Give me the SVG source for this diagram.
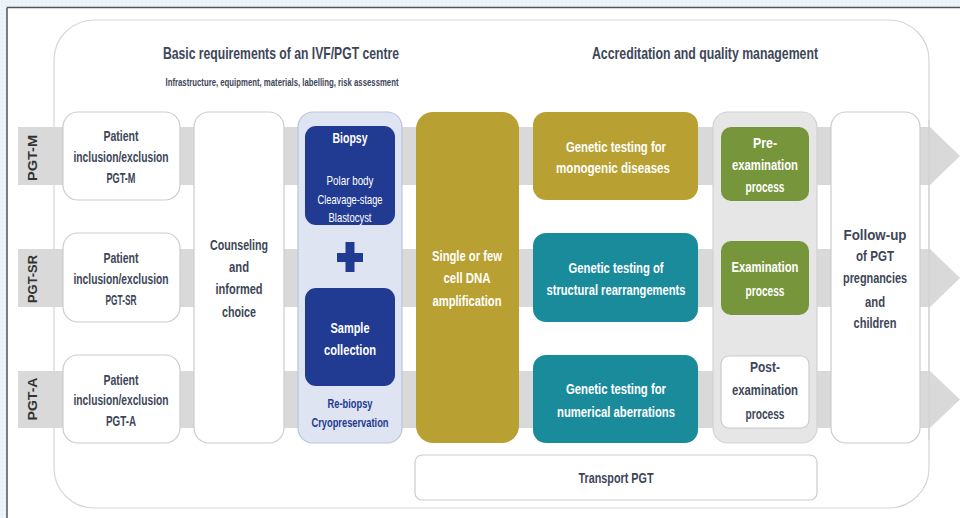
<svg xmlns="http://www.w3.org/2000/svg" width="960" height="518" viewBox="0 0 960 518">
<style>
text{font-family:"Liberation Sans",Arial,sans-serif;font-weight:bold;text-anchor:middle}
.dk{fill:#3d4658;font-size:15px}
.wt{fill:#ffffff;font-size:15px}
.ws{fill:#ffffff;font-size:13px;font-weight:normal}
.bl{fill:#23398f;font-size:13px}
.lane{fill:#d9d9d9}
.wbox{fill:#ffffff;stroke:#cccccc;stroke-width:1.2}
.lab{fill:#333333;font-size:12px}
</style>
<defs>
<pattern id="dots" width="4" height="4" patternUnits="userSpaceOnUse">
<rect width="4" height="4" fill="#eef4f9"/>
<circle cx="2" cy="2" r="0.8" fill="#dbe7f1"/>
</pattern>
</defs>
<rect x="0" y="0" width="960" height="518" fill="url(#dots)"/>
<rect x="7" y="8" width="953" height="510" fill="#ffffff"/>
<line x1="7" y1="7.5" x2="960" y2="7.5" stroke="#555555" stroke-width="1.5"/>
<line x1="7" y1="7.5" x2="7" y2="518" stroke="#555555" stroke-width="1.5"/>

<g id="frame">
<rect x="54" y="20" width="875" height="488" rx="40" fill="#ffffff" stroke="#d6d6d6" stroke-width="1.2"/>
<text x="281" y="59" style="fill:#3d4658;font-size:17px" textLength="236" lengthAdjust="spacingAndGlyphs">Basic requirements of an IVF/PGT centre</text>
<text x="282" y="86" style="fill:#3d4658;font-size:10px" textLength="233" lengthAdjust="spacingAndGlyphs">Infrastructure, equipment, materials, labelling, risk assessment</text>
<text x="705" y="59" style="fill:#3d4658;font-size:17px" textLength="226" lengthAdjust="spacingAndGlyphs">Accreditation and quality management</text>
</g>

<g id="connectors">
<path class="lane" d="M18 127 H930 L960 156 L930 185 H18 Z"/>
<path class="lane" d="M18 249 H930 L960 278 L930 307 H18 Z"/>
<path class="lane" d="M18 371 H930 L960 399.5 L930 428 H18 Z"/>
<line x1="929" y1="120" x2="929" y2="440" stroke="#d0d0d0" stroke-width="1"/>
<text class="lab" transform="translate(37 158) rotate(-90)" textLength="46" lengthAdjust="spacingAndGlyphs">PGT-M</text>
<text class="lab" transform="translate(37 279) rotate(-90)" textLength="48" lengthAdjust="spacingAndGlyphs">PGT-SR</text>
<text class="lab" transform="translate(37 399) rotate(-90)" textLength="43" lengthAdjust="spacingAndGlyphs">PGT-A</text>
</g>

<g id="patient-m">
<rect class="wbox" x="63" y="112" width="117" height="88" rx="15"/>
<text class="dk" x="121" y="141" textLength="35" lengthAdjust="spacingAndGlyphs">Patient</text>
<text class="dk" x="121" y="162" textLength="95" lengthAdjust="spacingAndGlyphs">inclusion/exclusion</text>
<text class="dk" x="121" y="183" textLength="29" lengthAdjust="spacingAndGlyphs">PGT-M</text>
</g>
<g id="patient-sr">
<rect class="wbox" x="63" y="233" width="117" height="89" rx="15"/>
<text class="dk" x="121" y="263" textLength="35" lengthAdjust="spacingAndGlyphs">Patient</text>
<text class="dk" x="121" y="284" textLength="95" lengthAdjust="spacingAndGlyphs">inclusion/exclusion</text>
<text class="dk" x="121" y="305" textLength="31" lengthAdjust="spacingAndGlyphs">PGT-SR</text>
</g>
<g id="patient-a">
<rect class="wbox" x="63" y="355" width="117" height="88" rx="15"/>
<text class="dk" x="121" y="385" textLength="35" lengthAdjust="spacingAndGlyphs">Patient</text>
<text class="dk" x="121" y="405" textLength="95" lengthAdjust="spacingAndGlyphs">inclusion/exclusion</text>
<text class="dk" x="121" y="426" textLength="30" lengthAdjust="spacingAndGlyphs">PGT-A</text>
</g>

<g id="counseling">
<rect class="wbox" x="194" y="112" width="90" height="331" rx="15"/>
<text class="dk" x="239" y="250" textLength="58" lengthAdjust="spacingAndGlyphs">Counseling</text>
<text class="dk" x="239" y="272" textLength="20" lengthAdjust="spacingAndGlyphs">and</text>
<text class="dk" x="239" y="294" textLength="47" lengthAdjust="spacingAndGlyphs">informed</text>
<text class="dk" x="239" y="317" textLength="34" lengthAdjust="spacingAndGlyphs">choice</text>
</g>

<g id="biopsy-group">
<rect x="298" y="112" width="104" height="331" rx="15" fill="#dfe4f2" stroke="#bcc4dc" stroke-width="1.2"/>
<text class="bl" x="350" y="408" textLength="45" lengthAdjust="spacingAndGlyphs">Re-biopsy</text>
<text class="bl" x="350" y="427" textLength="77" lengthAdjust="spacingAndGlyphs">Cryopreservation</text>
</g>
<g id="biopsy">
<rect x="305" y="126" width="90" height="99" rx="11" fill="#213b92"/>
<text class="wt" x="350" y="143" textLength="35" lengthAdjust="spacingAndGlyphs">Biopsy</text>
<text class="ws" x="350" y="185" textLength="47" lengthAdjust="spacingAndGlyphs">Polar body</text>
<text class="ws" x="350" y="204" textLength="65" lengthAdjust="spacingAndGlyphs">Cleavage-stage</text>
<text class="ws" x="350" y="222" textLength="43" lengthAdjust="spacingAndGlyphs">Blastocyst</text>
</g>
<g id="plus">
<rect x="337" y="253" width="26" height="9" fill="#213b92"/>
<rect x="345.5" y="242" width="9" height="30" fill="#213b92"/>
</g>
<g id="sample">
<rect x="305" y="288" width="90" height="98" rx="11" fill="#213b92"/>
<text class="wt" x="350" y="333" textLength="39" lengthAdjust="spacingAndGlyphs">Sample</text>
<text class="wt" x="350" y="355" textLength="52" lengthAdjust="spacingAndGlyphs">collection</text>
</g>

<g id="amplification">
<rect x="416" y="112" width="103" height="331" rx="17" fill="#b9a032"/>
<text class="wt" x="467" y="261" textLength="70" lengthAdjust="spacingAndGlyphs">Single or few</text>
<text class="wt" x="467" y="283" textLength="47" lengthAdjust="spacingAndGlyphs">cell DNA</text>
<text class="wt" x="467" y="306" textLength="69" lengthAdjust="spacingAndGlyphs">amplification</text>
</g>

<g id="test-monogenic">
<rect x="533" y="112" width="165" height="88" rx="13" fill="#b9a032"/>
<text class="wt" x="616" y="152" textLength="100" lengthAdjust="spacingAndGlyphs">Genetic testing for</text>
<text class="wt" x="613" y="173" textLength="114" lengthAdjust="spacingAndGlyphs">monogenic diseases</text>
</g>
<g id="test-structural">
<rect x="533" y="233" width="165" height="89" rx="13" fill="#1a8b9b"/>
<text class="wt" x="616" y="273" textLength="95" lengthAdjust="spacingAndGlyphs">Genetic testing of</text>
<text class="wt" x="616" y="295" textLength="139" lengthAdjust="spacingAndGlyphs">structural rearrangements</text>
</g>
<g id="test-numerical">
<rect x="533" y="355" width="165" height="88" rx="13" fill="#1a8b9b"/>
<text class="wt" x="616" y="394" textLength="100" lengthAdjust="spacingAndGlyphs">Genetic testing for</text>
<text class="wt" x="616" y="417" textLength="118" lengthAdjust="spacingAndGlyphs">numerical aberrations</text>
</g>

<g id="quality-group">
<rect x="713" y="112" width="104" height="331" rx="15" fill="#e6e6e6" stroke="#d2d2d2" stroke-width="1.2"/>
</g>
<g id="pre-exam">
<rect x="721" y="127" width="88" height="74" rx="10" fill="#77963b"/>
<text class="wt" x="765" y="148" textLength="24" lengthAdjust="spacingAndGlyphs">Pre-</text>
<text class="wt" x="765" y="170" textLength="66" lengthAdjust="spacingAndGlyphs">examination</text>
<text class="wt" x="765" y="192" textLength="39" lengthAdjust="spacingAndGlyphs">process</text>
</g>
<g id="exam">
<rect x="721" y="241" width="88" height="74" rx="10" fill="#77963b"/>
<text class="wt" x="765" y="272" textLength="67" lengthAdjust="spacingAndGlyphs">Examination</text>
<text class="wt" x="765" y="296" textLength="39" lengthAdjust="spacingAndGlyphs">process</text>
</g>
<g id="post-exam">
<rect class="wbox" x="721" y="356" width="88" height="72" rx="8"/>
<text class="dk" x="765" y="372" textLength="30" lengthAdjust="spacingAndGlyphs">Post-</text>
<text class="dk" x="765" y="395" textLength="66" lengthAdjust="spacingAndGlyphs">examination</text>
<text class="dk" x="765" y="419" textLength="39" lengthAdjust="spacingAndGlyphs">process</text>
</g>

<g id="follow-up">
<rect class="wbox" x="831" y="112" width="89" height="331" rx="15"/>
<text class="dk" x="875" y="240" textLength="63" lengthAdjust="spacingAndGlyphs">Follow-up</text>
<text class="dk" x="875" y="261" textLength="38" lengthAdjust="spacingAndGlyphs">of PGT</text>
<text class="dk" x="875" y="283" textLength="64" lengthAdjust="spacingAndGlyphs">pregnancies</text>
<text class="dk" x="875" y="307" textLength="20" lengthAdjust="spacingAndGlyphs">and</text>
<text class="dk" x="875" y="328" textLength="43" lengthAdjust="spacingAndGlyphs">children</text>
</g>

<g id="transport">
<rect class="wbox" x="415" y="455" width="402" height="45" rx="7"/>
<text class="dk" x="616" y="483" textLength="75" lengthAdjust="spacingAndGlyphs">Transport PGT</text>
</g>
</svg>
